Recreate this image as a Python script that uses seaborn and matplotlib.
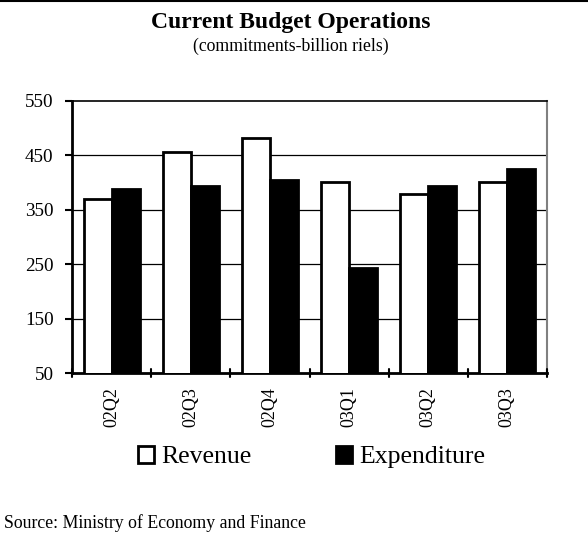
import matplotlib
matplotlib.use("Agg")
import matplotlib.pyplot as plt
import seaborn as sns
import pandas as pd
from matplotlib.patches import Patch
from matplotlib.lines import Line2D

quarters = ["02Q2", "02Q3", "02Q4", "03Q1", "03Q2", "03Q3"]
revenue = [370, 456, 481, 400, 378, 400]
expenditure = [388, 393, 405, 243, 394, 425]
y_ticks = [50, 150, 250, 350, 450, 550]

df = pd.DataFrame({
    "quarter": quarters * 2,
    "value": revenue + expenditure,
    "series": ["Revenue"] * len(quarters) + ["Expenditure"] * len(quarters),
})

sns.set_theme(style="white")
plt.rcParams["font.family"] = ["Liberation Serif", "DejaVu Serif"]
plt.rcParams["text.color"] = "black"
plt.rcParams["xtick.color"] = "black"
plt.rcParams["ytick.color"] = "black"
plt.rcParams["xtick.labelcolor"] = "black"
plt.rcParams["ytick.labelcolor"] = "black"

fig = plt.figure(figsize=(5.88, 5.34), dpi=100)
ax = fig.add_axes([0.123, 0.301, 0.807, 0.5105])

sns.barplot(data=df, x="quarter", y="value", hue="series",
            palette={"Revenue": "white", "Expenditure": "black"},
            edgecolor="black", linewidth=2, width=0.71, ax=ax,
            legend=False, zorder=3)

ax.set_ylim(50, 550)
ax.set_xlim(-0.5, len(quarters) - 0.5)
ax.set_yticks(y_ticks)
ax.set_yticklabels([str(t) for t in y_ticks], fontsize=13.8)
ax.set_xticks(range(len(quarters)))
ax.set_xticklabels(quarters, rotation=90, fontsize=13)
ax.tick_params(axis="x", length=0, pad=10)
ax.tick_params(axis="y", length=5, width=1.5, direction="out", color="black", pad=8.5, left=True)
ax.set_xlabel("")
ax.set_ylabel("")

for t in y_ticks[1:-1]:
    ax.axhline(t, color="black", linewidth=0.9, zorder=1)

for side in ["left", "bottom"]:
    ax.spines[side].set_color("black")
    ax.spines[side].set_linewidth(2)
ax.spines["top"].set_color("black")
ax.spines["top"].set_linewidth(1.2)
ax.spines["right"].set_color("#808080")
ax.spines["right"].set_linewidth(1.5)

# category boundary ticks crossing the x axis
for b in [i - 0.5 for i in range(len(quarters) + 1)]:
    ax.plot([b, b], [-0.015, 0.015], transform=ax.get_xaxis_transform(),
            color="black", linewidth=1.5, clip_on=False, zorder=5)

fig.text(0.495, 0.958, "Current Budget Operations", ha="center", va="center",
         fontsize=17, fontweight="bold")
fig.text(0.495, 0.913, "(commitments-billion riels)", ha="center", va="center",
         fontsize=12.8)

handles = [Patch(facecolor="white", edgecolor="black", linewidth=2, label="Revenue"),
           Patch(facecolor="black", edgecolor="black", linewidth=2, label="Expenditure")]
fig.legend(handles=handles, loc="center", bbox_to_anchor=(0.53, 0.144), ncol=2,
           frameon=False, fontsize=18.5, handlelength=0.62, handleheight=0.62,
           handletextpad=0.27, columnspacing=3.3)

fig.text(0.006, 0.021, "Source: Ministry of Economy and Finance", ha="left",
         va="center", fontsize=12.8)

fig.add_artist(Line2D([0, 1], [0.998, 0.998], transform=fig.transFigure,
                      color="black", linewidth=1.5))

fig.savefig("out.png", dpi=100, facecolor="white")
